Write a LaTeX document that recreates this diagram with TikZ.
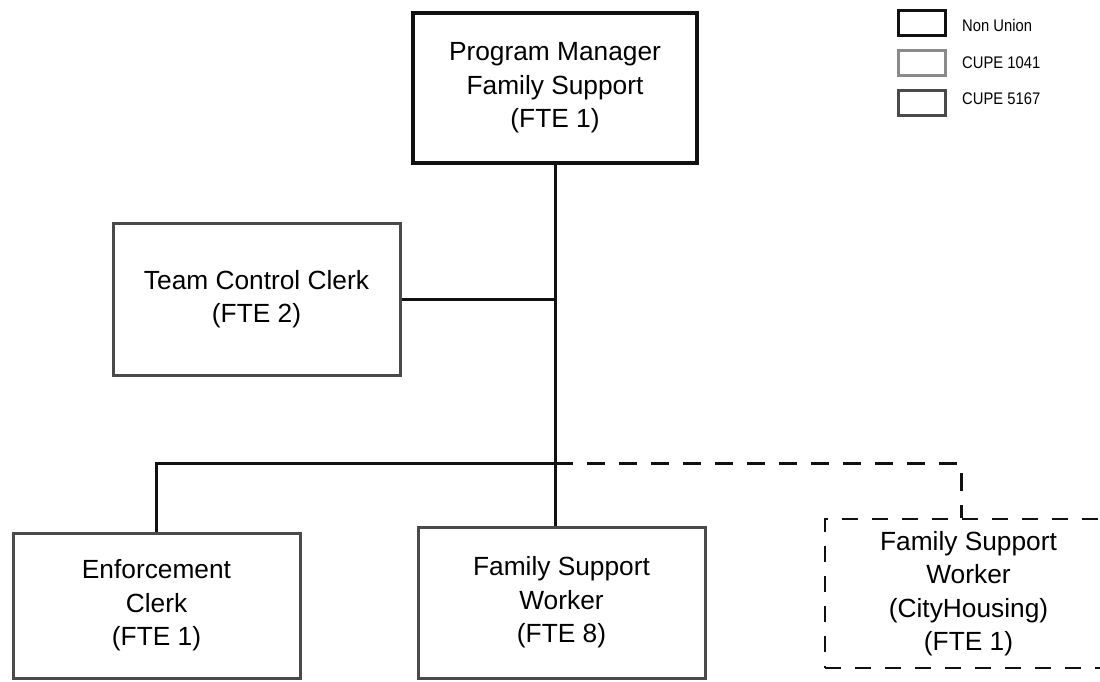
\documentclass[tikz,border=0pt]{standalone}
\usepackage{fontspec}
\setmainfont{Liberation Sans}
\newfontfamily\narrowfont{Liberation Sans}[FakeStretch=0.88]
\definecolor{nonunion}{HTML}{111111}
\definecolor{cupeA}{HTML}{8A8A8A}
\definecolor{cupeB}{HTML}{4A4A4A}
\tikzset{
  box/.style={draw, rectangle, line width=3pt, align=center, inner sep=0pt,
    font=\fontsize{26.3}{33.5}\selectfont, text=black},
  nonbox/.style={box, draw=nonunion, line width=3.4pt},
  cupebox/.style={box, draw=cupeB},
  dashbox/.style={box, draw=nonunion, line width=2.8pt, dash pattern=on 16pt off 14pt},
  conn/.style={line width=3pt, draw=nonunion},
  dconn/.style={line width=3pt, draw=nonunion, dash pattern=on 18pt off 14pt},
  legbox/.style={draw, rectangle, line width=2.8pt, minimum width=47pt, minimum height=25pt, inner sep=0pt},
  legtext/.style={anchor=west, inner sep=0pt, font=\narrowfont\fontsize{16.8}{18}\selectfont}
}
\begin{document}
\begin{tikzpicture}[x=1pt,y=-1pt]
\useasboundingbox (0,0) rectangle (1100,682);
\clip (0,0) rectangle (1100,682);
% legend
\node[legbox, draw=nonunion, line width=3.2pt] (l1) at (922,23) {};
\node[legbox, draw=cupeA] (l2) at (922,63) {};
\node[legbox, draw=cupeB] (l3) at (922,103) {};
\node[legtext] (t1) at (962,25) {Non Union};
\node[legtext] (t2) at (962,63) {CUPE 1041};
\node[legtext] (t3) at (962,99) {CUPE 5167};
% boxes
\node[nonbox, minimum width=284pt, minimum height=150pt] (pm) at (555,88)
  {Program Manager\\Family Support\\(FTE 1)};
\node[cupebox, minimum width=287pt, minimum height=152pt] (tcc) at (256.5,299)
  {Team Control Clerk\\(FTE 2)};
\node[cupebox, minimum width=287pt, minimum height=145pt] (ec) at (156.5,605.5)
  {Enforcement\\Clerk\\(FTE 1)};
\node[cupebox, minimum width=287pt, minimum height=151pt] (fsw) at (561.5,602.5)
  {Family Support\\Worker\\(FTE 8)};
\node[dashbox, minimum width=287pt, minimum height=149pt] (ch) at (968.5,593.5)
  {Family Support\\Worker\\(CityHousing)\\(FTE 1)};
% junctions
\coordinate (j1) at (555,292);
\coordinate (j2) at (555,463);
\coordinate (jc) at (961,463);
% connectors
\draw[conn] (pm.south) -- (j1) -- (j2) -- (j2 |- fsw.north);
\draw[conn] (tcc.east) -- (tcc.east -| j1);
\draw[conn] (ec.north) -- (ec.north |- j2) -- (j2);
\draw[dconn] (j2) -- (jc) -- (jc |- ch.north);
\end{tikzpicture}
\end{document}
